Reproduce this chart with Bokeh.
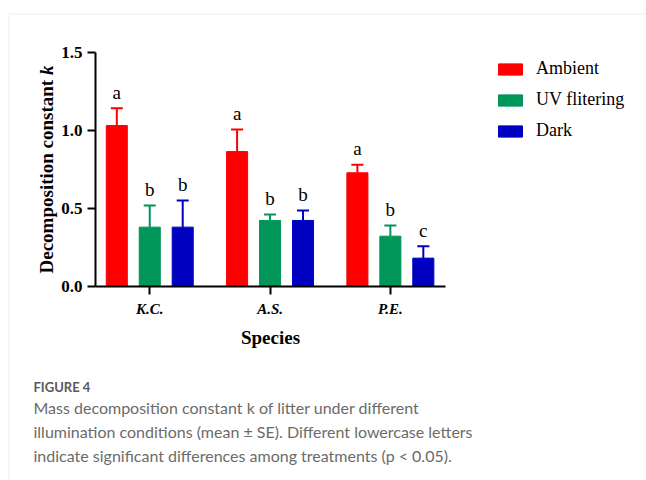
import math
from bokeh.plotting import figure
from bokeh.models import Range1d, FixedTicker, Label, Legend, LegendItem, BoxAnnotation, NumeralTickFormatter
from bokeh.embed import file_html
from bokeh.resources import INLINE
from bokeh.core.properties import value

# ---- data ----
species = ["K.C.", "A.S.", "P.E."]
treatments = ["Ambient", "UV flitering", "Dark"]
colors = ["#FF0000", "#00965A", "#0000C0"]
ambient = [1.033, 0.866, 0.730]
ambient_se = [0.111, 0.142, 0.051]
uv = [0.381, 0.424, 0.323]
uv_se = [0.139, 0.038, 0.069]
dark = [0.381, 0.424, 0.182]
dark_se = [0.171, 0.064, 0.077]
ambient_letters = ["a", "a", "a"]
uv_letters = ["b", "b", "b"]
dark_letters = ["b", "b", "c"]
y_ticks = [0.0, 0.5, 1.0, 1.5]

caption_head = "FIGURE 4"
caption_lines = [
    "Mass decomposition constant k of litter under different",
    "illumination conditions (mean \u00b1 SE). Different lowercase letters",
    "indicate significant differences among treatments (p < 0.05).",
]

SERIF = "Liberation Serif"
SANS = "Lato"
W, H = 646, 480

# layout geometry (pixels) -> data ranges
PX_X = 120.3      # pixels per category unit
PX_Y = 155.8      # pixels per unit of k
X0_PX, X0_VAL = 95, 0.549
Y0_PX = 286
x_start = X0_VAL - X0_PX / PX_X
x_end = x_start + W / PX_X
y_end = Y0_PX / PX_Y
y_start = -(H - Y0_PX) / PX_Y

p = figure(width=W, height=H,
           x_range=Range1d(x_start, x_end), y_range=Range1d(y_start, y_end),
           output_backend="svg", toolbar_location=None,
           min_border=0)
p.outline_line_color = None
p.grid.visible = False
p.background_fill_color = "white"
p.border_fill_color = "white"

offsets = [-0.274, 0.0, 0.274]
bar_w = 0.175
cap = 0.05
series = [(ambient, ambient_se, ambient_letters),
          (uv, uv_se, uv_letters),
          (dark, dark_se, dark_letters)]
items = []
for i, (vals, ses, letters) in enumerate(series):
    xs = [k + 1 + offsets[i] for k in range(len(species))]
    tops = [v + s for v, s in zip(vals, ses)]
    r = p.vbar(x=xs, top=vals, width=bar_w, bottom=0,
               fill_color=colors[i], line_color=colors[i], line_width=1)
    p.segment(x0=xs, y0=vals, x1=xs, y1=tops, line_color=colors[i], line_width=2)
    p.segment(x0=[x - cap for x in xs], y0=tops, x1=[x + cap for x in xs], y1=tops,
              line_color=colors[i], line_width=2)
    p.text(x=xs, y=tops, text=letters, text_align="center", text_baseline="alphabetic",
           y_offset=-16, text_font=value(SERIF), text_font_size=value("19px"),
           text_color=value("#000000"))
    items.append(LegendItem(label=treatments[i], renderers=[r]))

legend = Legend(items=items, location=(495, 339), orientation="vertical",
                glyph_width=30, glyph_height=14, label_standoff=11, spacing=10,
                padding=0, margin=0, border_line_color=None, background_fill_alpha=0,
                label_text_font=SERIF, label_text_font_size="18px", label_text_color="black")
p.add_layout(legend)

# axes, fixed inside the full-canvas frame
for ax in (p.xaxis[0], p.yaxis[0]):
    ax.axis_line_width = 2
    ax.axis_line_color = "black"
    ax.major_tick_line_width = 2
    ax.major_tick_line_color = "black"
    ax.major_tick_in = 0
    ax.minor_tick_in = 0
    ax.minor_tick_out = 0
    ax.major_label_text_font = SERIF
    ax.major_label_text_color = "black"

p.yaxis.fixed_location = X0_VAL
p.yaxis.bounds = (y_ticks[0], y_ticks[-1])
p.yaxis.ticker = FixedTicker(ticks=y_ticks)
p.yaxis.formatter = NumeralTickFormatter(format="0.0")
p.yaxis.major_tick_out = 8
p.yaxis.major_label_standoff = 5
p.yaxis.major_label_text_font_style = "bold"
p.yaxis.major_label_text_font_size = "17px"

p.xaxis.fixed_location = 0
p.xaxis.ticker = FixedTicker(ticks=[1, 2, 3])
p.xaxis.major_label_overrides = {1: species[0], 2: species[1], 3: species[2]}
p.xaxis.bounds = (X0_VAL, 3.457)
p.xaxis.major_tick_out = 8
p.xaxis.major_label_standoff = 6
p.xaxis.major_label_text_font_style = "bold italic"
p.xaxis.major_label_text_font_size = "15px"

# axis titles (screen units: from the bottom-left of the canvas-filling frame)
p.add_layout(Label(x=270, y=H - 337, x_units="screen", y_units="screen", text="Species",
                   text_align="center", text_baseline="middle", text_font=SERIF,
                   text_font_style="bold", text_font_size="19px", text_color="black"))
ylab_size = 19
p.add_layout(Label(x=46, y=H - 273, x_units="screen", y_units="screen", angle=math.pi / 2,
                   text="Decomposition constant ", text_align="left", text_baseline="middle",
                   text_font=SERIF, text_font_style="bold", text_font_size=f"{ylab_size}px",
                   text_color="black"))
p.add_layout(Label(x=46, y=H - 273 + 10.444 * ylab_size, x_units="screen", y_units="screen",
                   angle=math.pi / 2, text="k", text_align="left", text_baseline="middle",
                   text_font=SERIF, text_font_style="bold italic",
                   text_font_size=f"{ylab_size}px", text_color="black"))

# caption
p.add_layout(Label(x=33, y=H - 386, x_units="screen", y_units="screen", text=caption_head,
                   text_align="left", text_baseline="alphabetic", text_font=SANS,
                   text_font_style="bold", text_font_size="13px", text_color="#5a5a5a"))
for j, line in enumerate(caption_lines):
    p.add_layout(Label(x=33, y=H - 407 - 24 * j, x_units="screen", y_units="screen", text=line,
                       text_align="left", text_baseline="alphabetic", text_font=SANS,
                       text_font_size="16px", text_color="#6b6b6b"))

# panel border
p.add_layout(BoxAnnotation(left=8.5, right=700, top=H - 13.5, bottom=-50,
                           left_units="screen", right_units="screen",
                           top_units="screen", bottom_units="screen",
                           fill_alpha=0, line_color="#c4c4c4", line_width=1))

open("out.html", "w").write(file_html(p, INLINE))
